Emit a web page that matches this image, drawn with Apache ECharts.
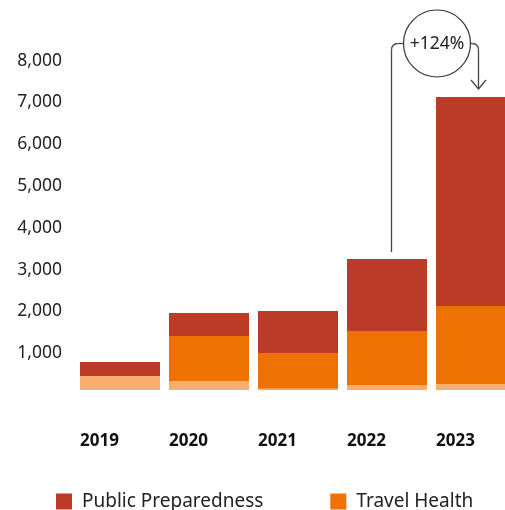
<!DOCTYPE html>
<html>
<head>
<meta charset="utf-8">
<script src="https://cdn.jsdelivr.net/npm/echarts@6/dist/echarts.min.js"></script>
<style>html,body{margin:0;padding:0;background:#fff;}#c{width:505px;height:510px;}</style>
</head>
<body>
<div id="c"></div>
<script>
const years = ['2019', '2020', '2021', '2022', '2023'];
const otherValues = [335, 215, 30, 120, 144];
const travelHealth = [0, 1077, 854, 1292, 1866];
const publicPreparedness = [335, 550, 1005, 1722, 5000];
const yTicks = [1000, 2000, 3000, 4000, 5000, 6000, 7000, 8000];
const growthLabel = '+124%';

const FONT = '"Noto Sans", sans-serif';
const chart = echarts.init(document.getElementById('c'), null, { renderer: 'canvas' });
const bar = (name, data, color) => ({
  name, type: 'bar', stack: 'total', data, barWidth: 80, clip: false,
  itemStyle: { color }, emphasis: { disabled: true }
});
const LS = { fill: 'none', stroke: '#444', lineWidth: 1.3 };
chart.setOption({
  animation: false,
  backgroundColor: '#fff',
  grid: { left: 120, right: 29, top: 55.6, bottom: 120, containLabel: false },
  legend: {
    data: ['Public Preparedness', 'Travel Health'],
    left: 56, top: 492, padding: 0, itemWidth: 16, itemHeight: 16, itemGap: 67,
    icon: 'rect',
    textStyle: { fontFamily: FONT, fontSize: 19, color: '#222', padding: [0, 0, 0, 5] }
  },
  xAxis: {
    type: 'category', data: years, boundaryGap: false,
    axisLine: { show: false }, axisTick: { show: false }, splitLine: { show: false },
    axisLabel: {
      margin: 43,
      formatter: '{a|{value}}',
      rich: { a: { width: 80, align: 'left', fontFamily: FONT, fontWeight: 'bold', fontSize: 17, color: '#111' } }
    }
  },
  yAxis: {
    type: 'value', min: 0, max: 8000, interval: 1000,
    axisLine: { show: false }, axisTick: { show: false }, splitLine: { show: false },
    axisLabel: {
      margin: 58, fontFamily: FONT, fontSize: 17.5, color: '#222',
      verticalAlign: 'top', lineHeight: 10,
      formatter: v => yTicks.includes(v) ? v.toLocaleString('en-US') : ''
    }
  },
  series: [
    bar('Other', otherValues, '#F8AE6F'),
    bar('Travel Health', travelHealth, '#EE7203'),
    bar('Public Preparedness', publicPreparedness, '#BA3B26')
  ],
  graphic: [
    { type: 'line', shape: { x1: 391.5, y1: 252, x2: 391.5, y2: 49.5 }, style: LS },
    { type: 'arc', shape: { cx: 397.5, cy: 49.5, r: 6, startAngle: Math.PI, endAngle: Math.PI * 1.5, clockwise: true }, style: LS },
    { type: 'line', shape: { x1: 397.5, y1: 43.5, x2: 405, y2: 43.5 }, style: LS },
    { type: 'line', shape: { x1: 469, y1: 43.5, x2: 472.5, y2: 43.5 }, style: LS },
    { type: 'arc', shape: { cx: 472.5, cy: 49.5, r: 6, startAngle: Math.PI * 1.5, endAngle: Math.PI * 2, clockwise: true }, style: LS },
    { type: 'line', shape: { x1: 478.5, y1: 49.5, x2: 478.5, y2: 89 }, style: LS },
    { type: 'polyline', shape: { points: [[471, 80], [478.5, 89], [486, 80]] }, style: LS },
    { type: 'circle', shape: { cx: 437, cy: 43.5, r: 33.5 }, style: { fill: '#fff', stroke: '#333', lineWidth: 1.2 } },
    { type: 'text', x: 437, y: 44, style: { text: growthLabel, fontFamily: FONT, fontSize: 17.5, fill: '#222', align: 'center', verticalAlign: 'middle' } }
  ]
});
</script>
</body>
</html>
